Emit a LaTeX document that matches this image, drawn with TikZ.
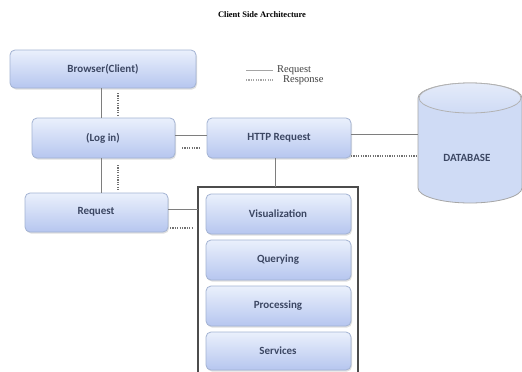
\documentclass[tikz,border=0pt]{standalone}
\usepackage{fontspec}
\setmainfont{Liberation Serif}
\newfontfamily\boxfont{Carlito}
\usetikzlibrary{shadows}
\definecolor{boxtop}{HTML}{EAF0FC}
\definecolor{boxbot}{HTML}{B6C6EF}
\definecolor{boxline}{HTML}{A3B3D3}
\definecolor{boxtext}{HTML}{3C4763}
\definecolor{wire}{HTML}{7E7E7E}
\definecolor{dbfill}{HTML}{CFDBF5}
\tikzset{
  block/.style={rounded corners=5pt, draw=boxline, line width=0.8pt,
    top color=boxtop, bottom color=boxbot,
    drop shadow={shadow xshift=1pt, shadow yshift=-1.5pt, opacity=0.25}},
  label/.style={font=\boxfont\bfseries\fontsize{11}{13}\selectfont, text=boxtext},
  solidwire/.style={draw=wire, line width=0.9pt},
  dotwire/.style={draw=wire!90!black, line width=1.1pt, dash pattern=on 1.2pt off 1.2pt},
}
\begin{document}
\begin{tikzpicture}[x=1pt,y=-1pt]
\useasboundingbox (0,0) rectangle (522,372);
\fill[white] (0,0) rectangle (522,372);
\clip (0,0) rectangle (522,372);

% title
\node (title) at (262,15) {\fontsize{8.5}{10}\selectfont\bfseries Client Side Architecture};

% legend
\coordinate (lsa) at (246,70);
\coordinate (lsb) at (273,70);
\coordinate (lda) at (246,80);
\coordinate (ldb) at (273,80);
\draw[solidwire, draw=wire!70] (lsa) -- (lsb);
\draw[dotwire, draw=wire!70] (lda) -- (ldb);
\node[anchor=west, inner sep=0pt, text=black!75] (lreq) at (277,70) {\fontsize{10.5}{11}\selectfont Request};
\node[anchor=west, inner sep=0pt, text=black!75] (lres) at (283,80) {\fontsize{10.5}{11}\selectfont Response};

% left column
\path[block] (10,50) rectangle (196,88);
\node[label] (browser) at (103,69) {Browser(Client)};
\path[block] (32,118) rectangle (175,158);
\node[label] (login) at (103,138) {(Log in)};
\path[block] (25,193) rectangle (168,232);
\node[label] (request) at (96,212) {Request};

% http request
\path[block] (207,118) rectangle (351,158);
\node[label] (http) at (279,138) {HTTP Request};

% service container
\draw[draw=black!70, line width=1.3pt] (198,380) -- (198,187) -- (358,187) -- (358,380);
\coordinate (cont) at (275,187);
\path[block] (206,194) rectangle (351,234);
\node[label] (vis) at (278,214) {Visualization};
\path[block] (206,240) rectangle (351,280);
\node[label] (query) at (278,260) {Querying};
\path[block] (206,286) rectangle (351,326);
\node[label] (proc) at (278,306) {Processing};
\path[block] (206,332) rectangle (351,370);
\node[label] (serv) at (278,351) {Services};

% database cylinder (y axis points down, so angle 90 is the lower side)
\path[fill=dbfill, draw=black!35, line width=0.8pt]
  (418,98) -- (418,188) arc[start angle=180, end angle=0, x radius=52, y radius=15]
  -- (522,98) arc[start angle=0, end angle=-180, x radius=52, y radius=15] -- cycle;
\path[top color=dbfill!55!white, bottom color=dbfill, draw=black!30, line width=0.8pt]
  (470,98) ellipse[x radius=51, y radius=15];
\node[label] (db) at (467,158) {DATABASE};

% connectors: request (solid) and response (dotted)
\draw[solidwire] (101,88) -- (101,118);
\coordinate (d1a) at (118,93); \coordinate (d1b) at (118,115);
\draw[dotwire] (d1a) -- (d1b);
\draw[solidwire] (101,158) -- (101,193);
\coordinate (d2a) at (118,165); \coordinate (d2b) at (118,190);
\draw[dotwire] (d2a) -- (d2b);

\draw[solidwire] (175,135) -- (207,135);
\coordinate (d3a) at (182,148); \coordinate (d3b) at (201,148);
\draw[dotwire] (d3a) -- (d3b);

\draw[solidwire] (351,134) -- (418,134);
\draw[dotwire] (351,156) -- (418,156);

\draw[solidwire] (275,158) -- (cont);

\draw[solidwire] (168,209) -- (198,209);
\coordinate (d4a) at (170,228); \coordinate (d4b) at (192,228);
\draw[dotwire] (d4a) -- (d4b);
\end{tikzpicture}
\end{document}
